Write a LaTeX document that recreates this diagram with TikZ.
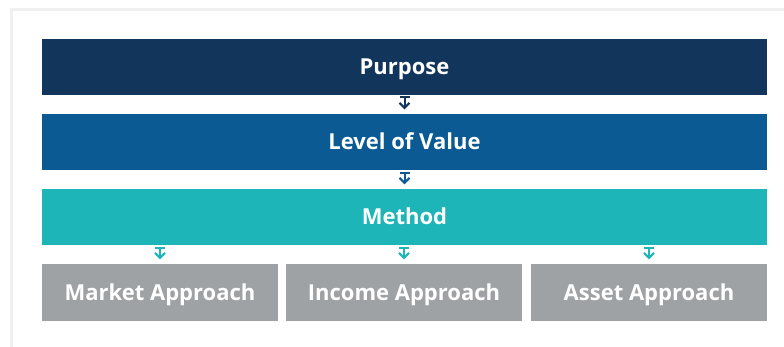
\documentclass[tikz,border=0pt]{standalone}
\usepackage{fontspec}
\setsansfont{Open Sans}
\usepackage{tikz}
\usetikzlibrary{positioning, arrows.meta}
\definecolor{navy}{HTML}{12355B}
\definecolor{midblue}{HTML}{0B5A93}
\definecolor{teal}{HTML}{1DB5B8}
\definecolor{stone}{HTML}{9EA2A5}
\definecolor{framegray}{HTML}{F0F0F0}
\tikzset{
    stage/.style = {rectangle, minimum width=725pt, minimum height=56pt, inner sep=0pt,
                        text height=18pt, text depth=3pt,
                        text=white, font=\sffamily\bfseries\fontsize{22}{26}\selectfont},
    approach/.style = {stage, fill=stone, minimum width=236pt},
    flow/.style = {{Bar[width=10pt]}-{Straight Barb[length=5pt,width=10pt]}, line width=2pt,
                        shorten <=1pt, shorten >=5pt}
}

\begin{document}
\begin{tikzpicture}[x=1pt, y=-1pt]
			\useasboundingbox (0,0) rectangle (784,347);
			\draw [framegray, line width=2.5pt] (11.5,347) -- (11.5,9.5) -- (784,9.5);
			\node (purpose) [stage, fill=navy] at (404.5,67) {Purpose};
			\node (level) [stage, fill=midblue] at (404.5,142.5) {Level of Value};
			\node (method) [stage, fill=teal] at (404.5,217.5) {Method};
			\node (market) [approach] at (160,292.5) {Market Approach};
			\node (income) [approach] at (404,292.5) {Income Approach};
			\node (asset) [approach] at (649,292.5) {Asset Approach};
			\draw [flow, navy] (purpose) to (level);
			\draw [flow, midblue] (level) to (method);
			\draw [flow, teal] (method.south -| market) to (market);
			\draw [flow, teal] (method.south -| income) to (income);
			\draw [flow, teal] (method.south -| asset) to (asset);
		\end{tikzpicture}
\end{document}
